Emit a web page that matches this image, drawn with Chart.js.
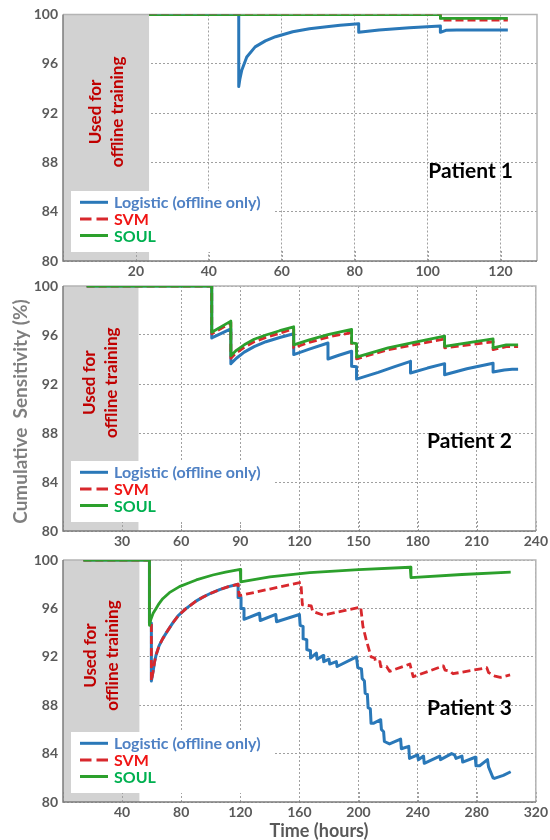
<!DOCTYPE html>
<html>
<head>
<meta charset="utf-8">
<script src="https://cdn.jsdelivr.net/npm/chart.js@4.4.1/dist/chart.umd.min.js"></script>
<style>
  html, body { margin: 0; padding: 0; background: #fff; }
  body { width: 550px; height: 840px; position: relative; overflow: hidden; }
  canvas { position: absolute; left: 0; }
</style>
</head>
<body>
<canvas id="c1" width="550" height="285" style="top:0px"></canvas>
<canvas id="c2" width="550" height="285" style="top:270px"></canvas>
<canvas id="c3" width="550" height="295" style="top:545px"></canvas>
<script>
// series names, panel names
const seriesNames = ['Logistic (offline only)', 'SVM', 'SOUL'];
const panelNames = ['Patient 1', 'Patient 2', 'Patient 3'];

// x axis per panel (hours)
const xMaxes = [130, 240, 320];
const xSteps = [20, 30, 40];
const offlineEnds = [23.6, 38.3, 51.7];   // end of grey "offline training" period
const yMin = 80, yMax = 100, yStep = 4;

// Patient 1  [time, sensitivity %]
const p1Logistic = [[23.6,100],[48.2,100],[48.2,94.15],[48.5,94.75],[49,95.45],[50.4,96.55],[52.7,97.37],[55.5,97.86],
  [58.3,98.2],[63,98.6],[67.6,98.85],[72.3,99.0],[76,99.12],[81.1,99.25],[81.1,98.56],[86.7,98.74],[95,98.92],
  [103.5,99.07],[103.5,98.55],[105,98.72],[108,98.75],[122,98.75]];
const p1Svm = [[23.6,100],[103.5,100],[103.5,99.55],[122,99.55]];
const p1Soul = [[23.6,100],[103.5,100],[103.5,99.68],[122,99.68]];

// Patient 2
const p2Logistic = [[12,100],[75.5,100],[75.5,95.76],[85.2,96.5],[85.2,93.66],[88,94.1],[92,94.6],[97,95.05],[103,95.45],
  [110,95.8],[117.1,96.1],[117.1,94.4],[125,94.85],[134.5,95.35],[134.5,94.04],[140,94.35],[146.5,94.67],[146.5,93.44],
  [149,93.4],[149,92.4],[160,92.95],[168,93.4],[176.4,93.85],[176.4,92.9],[185,93.3],[193.7,93.66],[193.7,92.76],
  [205,93.25],[218.3,93.7],[218.3,92.98],[224,93.15],[228,93.2],[231,93.2]];
const p2Svm = [[12,100],[75.5,100],[75.5,96.1],[85.2,97.0],[85.2,94.1],[88,94.55],[92,95.0],[97,95.45],[103,95.8],
  [110,96.15],[117.1,96.5],[117.1,94.95],[125,95.4],[135,95.85],[146.5,96.2],[146.5,95.2],[149,95.15],[149,94.05],
  [165,94.8],[180,95.25],[193.7,95.68],[193.7,94.95],[218.3,95.45],[218.3,94.8],[225,95.05],[231,95.05]];
const p2Soul = [[12,100],[75.5,100],[75.5,96.23],[85.2,97.13],[85.2,94.3],[88,94.75],[92,95.2],[97,95.65],[103,96.0],
  [110,96.35],[117.1,96.67],[117.1,95.2],[125,95.6],[135,96.05],[146.5,96.45],[146.5,95.35],[149,95.3],[149,94.2],
  [165,94.95],[180,95.45],[193.7,95.9],[193.7,95.08],[218.3,95.68],[218.3,94.95],[225,95.2],[231,95.2]];

// Patient 3
const p3Logistic = [[13.8,100],[58.5,100],[58.5,94.8],[59.8,94.8],[59.8,90.0],[61,90.8],[62,91.6],[63,92.15],[65,92.9],
  [67.5,93.5],[70,94.0],[74.3,94.8],[78,95.4],[83.4,96.0],[90,96.6],[95,96.95],[100,97.25],[106,97.55],[112,97.8],
  [118.5,98.0],[118.5,96.9],[120.5,96.9],[120.5,96.0],[122.5,96.0],[122.5,95.1],[133,95.6],[133.5,95.0],[144,95.5],
  [144.5,94.9],[160,95.5],[160.5,94.6],[162.5,94.5],[162.5,93.5],[165,93.4],[165,92.6],[167.5,92.5],[167.5,91.9],
  [171.5,92.3],[172,91.8],[176,92.1],[176.5,91.6],[180,91.8],[180.5,91.4],[185,91.6],[185.5,91.2],[198.6,92.0],
  [199.5,91.1],[202,91.0],[202.5,90.2],[204,90.0],[204.5,89.0],[206,88.9],[206.5,87.8],[208,87.7],[208.5,86.5],
  [210,86.5],[215,86.8],[215.5,86.0],[217,85.8],[217.5,85.0],[221,84.8],[228.5,85.2],[229,84.4],[234,84.6],
  [234.5,83.6],[240,83.9],[240.5,83.5],[244,83.8],[244.5,83.2],[255,83.8],[255.5,83.5],[263,84.0],[265,83.9],
  [266,83.6],[270,83.8],[270.5,83.3],[279,83.7],[279.5,83.0],[282,83.0],[287.3,83.5],[288,82.9],[291,82.0],
  [292,81.95],[298,82.2],[303,82.5]];
const p3Svm = [[13.8,100],[58.5,100],[58.5,94.8],[59.8,94.8],[59.8,90.0],[61,90.8],[62,91.6],[63,92.15],[65,92.9],
  [67.5,93.5],[70,94.0],[74.3,94.8],[78,95.4],[83.4,96.0],[90,96.6],[95,96.95],[100,97.25],[106,97.55],[112,97.8],
  [118.5,98.0],[119.2,97.05],[140,97.6],[161,98.15],[162,96.3],[168,96.2],[169,95.75],[176,95.45],[201.5,96.1],
  [203,94.5],[205,93.5],[208.5,92.0],[211,91.9],[211.5,91.6],[214.5,91.6],[215,91.2],[219,91.2],[221,90.8],
  [234.8,91.4],[237,90.35],[257.4,91.25],[258.5,90.9],[262,90.8],[264,90.6],[286.8,91.1],[288,90.7],[292.4,90.4],
  [296,90.3],[302.6,90.5]];
const p3Soul = [[13.8,100],[58.5,100],[58.5,94.6],[59.5,95.1],[61,95.6],[63,96.0],[65,96.4],[67.5,96.8],[72,97.3],
  [78.8,97.8],[85,98.1],[90.2,98.35],[101.4,98.76],[110,99.0],[120,99.22],[120.3,98.2],[140,98.6],[167,98.95],
  [200,99.2],[235,99.4],[235.5,98.55],[270,98.8],[303,99.0]];

const BLUE = '#2a78b8', RED = '#d8282d', GREEN = '#2ca02c';
const LEGEND_TEXT = ['#4f81c4', '#f01414', '#00b050'];
const GRID = '#a0a0a0';
const TICK_COLOR = '#5a5a5a';
const FONT = 'Lato';

function toXY(arr) {
  return arr.map(p => ({ x: p[0], y: p[1] }));
}

const decor = {
  id: 'decor',
  beforeDatasetsDraw(chart, args, o) {
    const { ctx, chartArea: a, scales: { x } } = chart;
    ctx.save();
    // grey offline period
    ctx.fillStyle = '#d2d2d2';
    const xs = x.getPixelForValue(o.shadeEnd);
    ctx.fillRect(a.left, a.top, xs - a.left, a.bottom - a.top);
    // inward tick marks
    ctx.strokeStyle = GRID;
    ctx.lineWidth = 1;
    ctx.setLineDash([2, 2]);
    x.ticks.forEach(t => {
      const px = Math.round(x.getPixelForValue(t.value)) + 0.5;
      ctx.beginPath();
      ctx.moveTo(px, a.bottom);
      ctx.lineTo(px, a.bottom - 10);
      ctx.stroke();
    });
    ctx.setLineDash([]);
    // frame
    ctx.lineWidth = 1.5;
    ctx.strokeStyle = '#b4b4b4';
    ctx.beginPath();
    ctx.moveTo(a.left, a.top);
    ctx.lineTo(a.right, a.top);
    ctx.lineTo(a.right, a.bottom);
    ctx.stroke();
    ctx.strokeStyle = '#7c7c7c';
    ctx.beginPath();
    ctx.moveTo(a.left, a.top);
    ctx.lineTo(a.left, a.bottom);
    ctx.lineTo(a.right, a.bottom);
    ctx.stroke();
    ctx.restore();
  },
  afterDatasetsDraw(chart, args, o) {
    const { ctx, chartArea: a, scales: { x, y } } = chart;
    ctx.save();

    // legend box
    const lx = a.left + 8, ly = a.bottom - 9 - 61;
    ctx.fillStyle = '#fff';
    ctx.fillRect(lx, ly, 202, 61);
    const cols = [BLUE, RED, GREEN];
    const dashes = [[], [11.5, 5], []];
    seriesNames.forEach((name, i) => {
      const yy = ly + 11.3 + i * 16.6;
      ctx.strokeStyle = cols[i];
      ctx.lineWidth = 3;
      ctx.setLineDash(dashes[i]);
      ctx.beginPath();
      ctx.moveTo(lx + 9, yy);
      ctx.lineTo(lx + 37, yy);
      ctx.stroke();
      ctx.setLineDash([]);
      ctx.fillStyle = LEGEND_TEXT[i];
      ctx.font = 'bold 16px ' + FONT;
      ctx.textAlign = 'left';
      ctx.textBaseline = 'middle';
      ctx.fillText(name, lx + 43, yy + 1);
    });

    // "Used for offline training"
    const cx = (a.left + x.getPixelForValue(o.shadeEnd)) / 2;
    const cy = y.getPixelForValue(92.1);
    ctx.translate(cx, cy);
    ctx.rotate(-Math.PI / 2);
    ctx.fillStyle = '#c00000';
    ctx.font = 'bold 17px ' + FONT;
    ctx.textAlign = 'center';
    ctx.textBaseline = 'middle';
    ctx.fillText('Used for', 0, -11);
    ctx.fillText('offline training', 0, 11);
    ctx.setTransform(1, 0, 0, 1, 0, 0);

    // patient label
    ctx.fillStyle = '#000';
    ctx.font = 'bold 21px ' + FONT;
    ctx.textAlign = 'right';
    ctx.textBaseline = 'alphabetic';
    ctx.fillText(o.patient, a.right - 24, y.getPixelForValue(o.patientY));

    // axis titles
    if (o.yTitle) {
      ctx.translate(21, (a.top + a.bottom) / 2 + 3);
      ctx.rotate(-Math.PI / 2);
      ctx.fillStyle = '#7f7f7f';
      ctx.font = 'bold 19px ' + FONT;
      ctx.textAlign = 'center';
      ctx.textBaseline = 'middle';
      ctx.fillText(o.yTitle, 0, 0);
      ctx.setTransform(1, 0, 0, 1, 0, 0);
    }
    if (o.xTitle) {
      ctx.fillStyle = '#595959';
      ctx.font = 'bold 18px ' + FONT;
      ctx.textAlign = 'center';
      ctx.textBaseline = 'middle';
      ctx.fillText(o.xTitle, 319, a.bottom + 29.5);
    }
    ctx.restore();
  }
};

function makeChart(id, i, logistic, svm, soul, padTop, xAxisH, extra) {
  const tickFont = { family: FONT, size: 14, weight: 'bold' };
  return new Chart(document.getElementById(id), {
    type: 'line',
    data: {
      datasets: [
        { label: seriesNames[2], data: toXY(soul), borderColor: GREEN, borderWidth: 2.8, order: 0 },
        { label: seriesNames[1], data: toXY(svm), borderColor: RED, borderWidth: 2.8, borderDash: [8, 4], order: 1 },
        { label: seriesNames[0], data: toXY(logistic), borderColor: BLUE, borderWidth: 3, order: 2 }
      ]
    },
    options: {
      responsive: false,
      animation: false,
      layout: { padding: { left: 0, right: 13, top: padTop, bottom: 0 } },
      elements: {
        point: { radius: 0 },
        line: { tension: 0, borderJoinStyle: 'round', fill: false }
      },
      plugins: {
        legend: { display: false },
        tooltip: { enabled: false },
        decor: Object.assign({ shadeEnd: offlineEnds[i], patient: panelNames[i] }, extra)
      },
      scales: {
        x: {
          type: 'linear',
          min: 0,
          max: xMaxes[i],
          ticks: {
            stepSize: xSteps[i],
            includeBounds: false,
            autoSkip: false,
            maxRotation: 0,
            padding: 2,
            color: TICK_COLOR,
            font: tickFont,
            callback: v => (v === 0 ? '' : v)
          },
          grid: { color: GRID, lineWidth: 1, drawTicks: false },
          border: { display: false, dash: [2, 2] },
          afterFit: s => { s.height = xAxisH; }
        },
        y: {
          min: yMin,
          max: yMax,
          ticks: { stepSize: yStep, padding: 5, color: TICK_COLOR, font: tickFont },
          grid: { color: GRID, lineWidth: 1, drawTicks: false },
          border: { display: false, dash: [2, 2] },
          afterFit: s => { s.width = 63; }
        }
      }
    },
    plugins: [decor]
  });
}

makeChart('c1', 0, p1Logistic, p1Svm, p1Soul, 14.5, 24, { patientY: 86.75 });
makeChart('c2', 1, p2Logistic, p2Svm, p2Soul, 16, 24, { patientY: 86.8, yTitle: 'Cumulative  Sensitivity (%)' });
makeChart('c3', 2, p3Logistic, p3Svm, p3Soul, 15, 38, { patientY: 87.2, xTitle: 'Time (hours)' });
</script>
</body>
</html>
